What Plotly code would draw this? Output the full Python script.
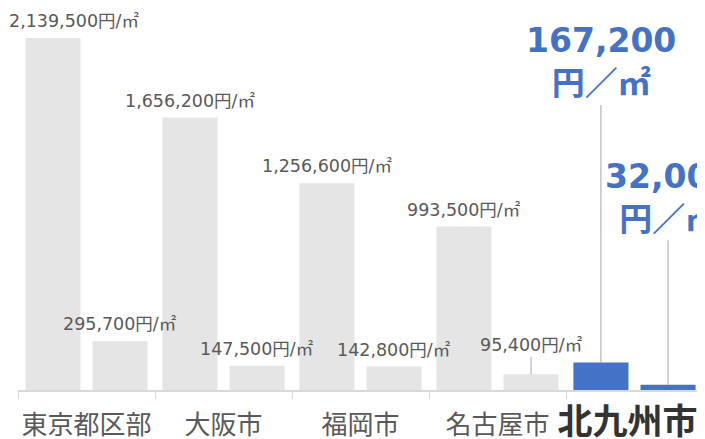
import plotly.graph_objects as go

categories = ["東京都区部", "大阪市", "福岡市", "名古屋市", "北九州市"]
series_a = [2139500, 1656200, 1256600, 993500, 167200]
series_b = [295700, 147500, 142800, 95400, 32000]
highlight = "北九州市"

GRAY = "#e5e5e5"
BLUE = "#4472c4"
TXT = "#595959"
LBL_FONT = "DejaVu Sans, Noto Sans CJK JP"
CJK_FONT = "Noto Sans CJK JP"

bargap = 0.02
bargroupgap = 0.18
offset = (1 - bargap) / 4

def colors():
    return [BLUE if c == highlight else GRAY for c in categories]

fig = go.Figure()
fig.add_trace(go.Bar(x=categories, y=series_a, marker=dict(color=colors(), line=dict(width=0)), name="A"))
fig.add_trace(go.Bar(x=categories, y=series_b, marker=dict(color=colors(), line=dict(width=0)), name="B"))

def fmt(v):
    return f"{v:,}円/㎡"

annotations = []
for i, c in enumerate(categories):
    for k, (vals, sgn) in enumerate([(series_a, -1), (series_b, 1)]):
        v = vals[i]
        xpos = i + sgn * offset
        if c == highlight:
            ay = -300 if k == 0 else -187
            annotations.append(dict(
                x=xpos, y=v, xref="x", yref="y",
                text=f"<b>{v:,}<br>円／㎡</b>",
                showarrow=True, arrowhead=0, arrowwidth=1, arrowcolor="#a6a6a6",
                ax=0, ay=ay, standoff=0,
                font=dict(family=LBL_FONT, size=33, color=BLUE),
                align="center",
            ))
        elif v < 100000:
            annotations.append(dict(
                x=xpos, y=v, xref="x", yref="y", text=fmt(v),
                showarrow=True, arrowhead=0, arrowwidth=1, arrowcolor="#a6a6a6",
                ax=0, ay=-29, standoff=0,
                font=dict(family=LBL_FONT, size=17.5, color=TXT),
            ))
        else:
            annotations.append(dict(
                x=xpos, y=v, xref="x", yref="y", text=fmt(v),
                showarrow=False, yanchor="bottom", yshift=5,
                xshift=21 if (i == 0 and k == 0) else 0,
                font=dict(family=LBL_FONT, size=17.5, color=TXT),
            ))

ticktext = [
    f"<b><span style='font-size:35px;color:#333333'>{c}\u2009\u2009</span></b>" if c == highlight else c
    for c in categories
]

fig.update_layout(
    width=697, height=431,
    margin=dict(l=10, r=2, t=0, b=49, autoexpand=False),
    paper_bgcolor="white", plot_bgcolor="white",
    barmode="group", bargap=bargap, bargroupgap=bargroupgap,
    showlegend=False,
    annotations=annotations,
    xaxis=dict(
        type="category", tickvals=categories, ticktext=ticktext,
        range=[-0.5, len(categories) - 0.5],
        tickangle=0, automargin=False, ticklabelstandoff=11,
        showline=True, linecolor="#d9d9d9", linewidth=2,
        ticks="outside", tickson="boundaries", ticklen=7, tickcolor="#d9d9d9", tickwidth=1,
        tickfont=dict(family=CJK_FONT, size=26, color=TXT),
        showgrid=False, zeroline=False,
    ),
    yaxis=dict(visible=False, range=[0, 2322000], showgrid=False, zeroline=False, automargin=False),
)

fig.write_html("out.html")
